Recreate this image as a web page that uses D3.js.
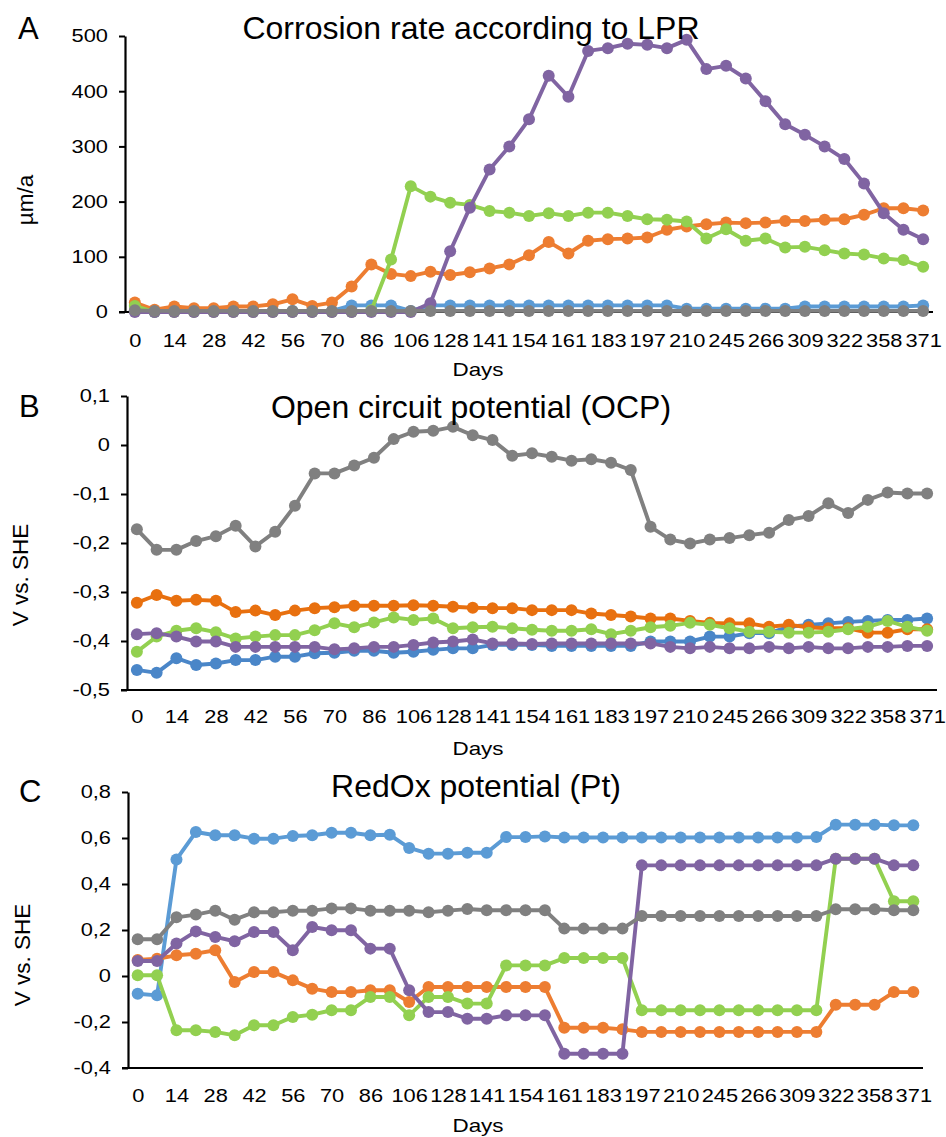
<!DOCTYPE html>
<html>
<head>
<meta charset="utf-8">
<script src="https://cdn.jsdelivr.net/npm/d3@7"></script>
<style>
  html, body { margin: 0; padding: 0; background: #fff; }
  svg { display: block; font-family: "Liberation Sans", Arial, Helvetica, sans-serif; }
</style>
</head>
<body>
<svg id="chart" width="946" height="1137"></svg>
<script>
// ---------- data ----------
// 41 sampling occasions; only every other one carries a day label
const sampleIndex = [0,1,2,3,4,5,6,7,8,9,10,11,12,13,14,15,16,17,18,19,20,21,22,23,24,25,26,27,28,29,30,31,32,33,34,35,36,37,38,39,40];
const dayTickLabels = ["0","14","28","42","56","70","86","106","128","141","154","161","183","197","210","245","266","309","322","358","371"];

const seriesNames = ["blue", "orange", "green", "purple", "gray"];

// Panel A: corrosion rate (µm/a)
const lprBlue   = [2,0,2,2,2,2,2,2,2,2,2,12,12,12,2,12,12,12,12,12,12,12,12,12,12,12,12,12,6,6,6,6,6,6,10,10,10,10,10,10,12];
const lprOrange = [17,4,10,7,7,10,10,14,23,11,17,46,86,69,65,73,67,72,79,86,103,127,106,129,132,133,135,149,155,159,162,161,162,165,165,167,168,176,188,188,184];
const lprGreen  = [11,0,0,0,0,0,0,0,0,0,0,0,3,95,228,209,198,194,183,180,174,179,174,180,180,174,168,167,164,133,150,129,133,117,118,112,106,104,97,94,82];
const lprPurple = [0,0,0,0,0,0,0,0,0,0,0,0,0,0,0,16,110,189,258,300,349,428,390,473,478,486,484,478,493,440,446,423,382,340,321,300,277,233,179,149,132];
const lprGray   = [3,2,2,2,2,2,2,2,2,2,2,2,2,2,2,2,2,2,2,2,2,2,2,2,2,2,2,2,2,2,2,2,2,2,2,2,2,2,2,2,2];

// Panel B: open circuit potential (V vs. SHE)
const ocpBlue   = [-0.459,-0.465,-0.435,-0.449,-0.446,-0.439,-0.439,-0.432,-0.432,-0.425,-0.424,-0.420,-0.420,-0.424,-0.422,-0.418,-0.415,-0.415,-0.408,-0.408,-0.408,-0.410,-0.410,-0.410,-0.410,-0.410,-0.401,-0.401,-0.401,-0.391,-0.391,-0.384,-0.384,-0.371,-0.367,-0.364,-0.361,-0.359,-0.357,-0.357,-0.354];
const ocpOrange = [-0.322,-0.306,-0.318,-0.316,-0.318,-0.341,-0.338,-0.347,-0.338,-0.333,-0.331,-0.328,-0.328,-0.328,-0.327,-0.328,-0.330,-0.332,-0.333,-0.333,-0.337,-0.337,-0.337,-0.344,-0.347,-0.350,-0.354,-0.354,-0.359,-0.363,-0.364,-0.364,-0.371,-0.367,-0.372,-0.374,-0.374,-0.383,-0.383,-0.376,-0.376];
const ocpGreen  = [-0.422,-0.391,-0.379,-0.374,-0.382,-0.395,-0.391,-0.388,-0.388,-0.378,-0.364,-0.372,-0.362,-0.352,-0.357,-0.354,-0.374,-0.372,-0.371,-0.374,-0.377,-0.379,-0.379,-0.376,-0.386,-0.379,-0.372,-0.369,-0.363,-0.367,-0.374,-0.381,-0.381,-0.383,-0.383,-0.381,-0.376,-0.371,-0.359,-0.371,-0.379];
const ocpPurple = [-0.386,-0.384,-0.391,-0.401,-0.401,-0.412,-0.412,-0.412,-0.412,-0.412,-0.417,-0.415,-0.412,-0.412,-0.408,-0.403,-0.401,-0.397,-0.405,-0.405,-0.406,-0.405,-0.405,-0.405,-0.405,-0.405,-0.405,-0.412,-0.415,-0.412,-0.415,-0.415,-0.412,-0.415,-0.412,-0.415,-0.415,-0.412,-0.412,-0.410,-0.410];
const ocpGray   = [-0.172,-0.214,-0.214,-0.196,-0.186,-0.165,-0.207,-0.177,-0.124,-0.058,-0.058,-0.042,-0.026,0.012,0.027,0.029,0.037,0.020,0.010,-0.022,-0.017,-0.024,-0.032,-0.029,-0.036,-0.051,-0.167,-0.193,-0.201,-0.193,-0.190,-0.184,-0.179,-0.153,-0.145,-0.119,-0.139,-0.112,-0.097,-0.099,-0.099];

// Panel C: redox potential (Pt), V vs. SHE
const redoxBlue   = [-0.077,-0.084,0.507,0.626,0.612,0.612,0.597,0.597,0.609,0.612,0.623,0.623,0.612,0.614,0.557,0.532,0.532,0.536,0.536,0.604,0.604,0.607,0.602,0.602,0.602,0.602,0.602,0.602,0.602,0.602,0.602,0.602,0.602,0.602,0.602,0.604,0.658,0.658,0.658,0.655,0.655];
const redoxOrange = [0.070,0.075,0.090,0.097,0.112,-0.026,0.017,0.017,-0.019,-0.055,-0.070,-0.070,-0.062,-0.062,-0.113,-0.048,-0.048,-0.048,-0.048,-0.048,-0.048,-0.048,-0.225,-0.225,-0.225,-0.232,-0.243,-0.243,-0.243,-0.243,-0.243,-0.243,-0.243,-0.243,-0.243,-0.243,-0.125,-0.125,-0.125,-0.070,-0.070];
const redoxGreen  = [0.003,0.003,-0.236,-0.236,-0.243,-0.258,-0.214,-0.214,-0.178,-0.168,-0.149,-0.149,-0.091,-0.091,-0.171,-0.091,-0.091,-0.120,-0.120,0.046,0.046,0.046,0.078,0.078,0.078,0.078,-0.149,-0.149,-0.149,-0.149,-0.149,-0.149,-0.149,-0.149,-0.149,-0.149,0.510,0.510,0.510,0.325,0.325];
const redoxPurple = [0.065,0.065,0.141,0.194,0.170,0.151,0.191,0.191,0.112,0.213,0.199,0.199,0.119,0.119,-0.062,-0.157,-0.157,-0.186,-0.186,-0.171,-0.171,-0.171,-0.338,-0.338,-0.338,-0.338,0.481,0.481,0.481,0.481,0.481,0.481,0.481,0.481,0.481,0.481,0.510,0.510,0.510,0.481,0.481];
const redoxGray   = [0.160,0.160,0.255,0.267,0.284,0.245,0.277,0.277,0.284,0.284,0.294,0.294,0.284,0.284,0.284,0.277,0.284,0.291,0.286,0.286,0.286,0.286,0.206,0.206,0.206,0.206,0.261,0.261,0.261,0.261,0.261,0.261,0.261,0.261,0.261,0.261,0.290,0.290,0.290,0.286,0.286];

// y tick values and labels
const lprTicks = [0,100,200,300,400,500];
const lprTickLabels = ["0","100","200","300","400","500"];
const ocpTicks = [0.1,0,-0.1,-0.2,-0.3,-0.4,-0.5];
const ocpTickLabels = ["0,1","0","-0,1","-0,2","-0,3","-0,4","-0,5"];
const redoxTicks = [0.8,0.6,0.4,0.2,0,-0.2,-0.4];
const redoxTickLabels = ["0,8","0,6","0,4","0,2","0","-0,2","-0,4"];

// ---------- styles ----------
const colorsAC = {blue:"#5B9BD5", orange:"#ED7D31", green:"#92D050", purple:"#8064A2", gray:"#808080"};
const colorsB  = {blue:"#4A86C8", orange:"#E8700F", green:"#92D050", purple:"#8064A2", gray:"#808080"};
const STRETCH = 1.18;

const svg = d3.select("#chart");

function stretchText(sel) {
  sel.each(function() {
    const len = this.getComputedTextLength();
    d3.select(this).attr("textLength", len * STRETCH).attr("lengthAdjust", "spacingAndGlyphs");
  });
}

function drawPanel(cfg) {
  const g = svg.append("g");
  const x = d3.scalePoint().domain(sampleIndex).range([cfg.x0, cfg.x1]).padding(0.5);
  const y = d3.scaleLinear().domain(cfg.yDomain).range([cfg.yBottom, cfg.yTop]);

  // y axis
  const yAxis = d3.axisLeft(y).tickValues(cfg.yTicks)
    .tickFormat((d, i) => cfg.yTickLabels[i]).tickSize(6).tickSizeOuter(0).tickPadding(11);
  const ya = g.append("g").attr("transform", `translate(${cfg.x0},0)`).call(yAxis);
  ya.select(".domain").attr("stroke", "#000").attr("stroke-width", 2.2);
  ya.selectAll(".tick line").attr("stroke", "#000").attr("stroke-width", 2);
  ya.selectAll("text").attr("font-size", 18.5).attr("fill", "#000")
    .attr("font-family", "Liberation Sans, Arial, sans-serif").call(stretchText);

  // x axis
  const evenIdx = sampleIndex.filter((d, i) => i % 2 === 0);
  const xAxis = d3.axisBottom(x).tickValues(evenIdx)
    .tickFormat(d => dayTickLabels[d / 2]).tickSize(0).tickSizeOuter(0).tickPadding(cfg.xPad);
  const xa = g.append("g").attr("transform", `translate(0,${y(cfg.yDomain[0])})`).call(xAxis);
  xa.select(".domain").attr("stroke", "#000").attr("stroke-width", 2.2)
    .attr("d", `M${cfg.x0 - 6},0H${cfg.x1}`);
  xa.selectAll("text").attr("font-size", 18.5).attr("fill", "#000")
    .attr("font-family", "Liberation Sans, Arial, sans-serif").call(stretchText);

  // series
  const line = d3.line().x((d, i) => x(sampleIndex[i])).y(d => y(d));
  cfg.series.forEach((vals, k) => {
    const col = cfg.colors[seriesNames[k]];
    g.append("path").datum(vals).attr("d", line)
      .attr("fill", "none").attr("stroke", col).attr("stroke-width", 3.9)
      .attr("stroke-linejoin", "round");
    g.append("g").selectAll("circle").data(vals).join("circle")
      .attr("cx", (d, i) => x(sampleIndex[i])).attr("cy", d => y(d))
      .attr("r", 6).attr("fill", col);
  });

  // titles and labels
  g.append("text").attr("x", cfg.titleX).attr("y", cfg.titleY).attr("text-anchor", "middle")
    .attr("font-size", 32).attr("fill", "#000").text(cfg.title);
  g.append("text").attr("x", cfg.letterX).attr("y", cfg.letterY)
    .attr("font-size", 31).attr("fill", "#000").text(cfg.letter);
  g.append("text").attr("x", 478).attr("y", cfg.daysY).attr("text-anchor", "middle")
    .attr("font-size", 19).attr("fill", "#000").text("Days").call(stretchText);
  g.append("text").attr("transform", `translate(${cfg.yLabX},${cfg.yLabY}) rotate(-90)`)
    .attr("text-anchor", "middle").attr("dy", "0.35em")
    .attr("font-size", 22.5).attr("fill", "#000").text(cfg.yLabel);
}

drawPanel({
  x0: 125, x1: 933, yTop: 36, yBottom: 312, yDomain: [0, 500],
  yTicks: lprTicks, yTickLabels: lprTickLabels, xPad: 22,
  series: [lprBlue, lprOrange, lprGreen, lprPurple, lprGray], colors: colorsAC,
  title: "Corrosion rate according to LPR", titleX: 471, titleY: 39,
  letter: "A", letterX: 18, letterY: 39, daysY: 376,
  yLabel: "µm/a", yLabX: 25, yLabY: 200
});

drawPanel({
  x0: 127, x1: 937, yTop: 396, yBottom: 690, yDomain: [-0.5, 0.1],
  yTicks: ocpTicks, yTickLabels: ocpTickLabels, xPad: 20,
  series: [ocpBlue, ocpOrange, ocpGreen, ocpPurple, ocpGray], colors: colorsB,
  title: "Open circuit potential (OCP)", titleX: 471, titleY: 418,
  letter: "B", letterX: 19, letterY: 417, daysY: 755,
  yLabel: "V vs. SHE", yLabX: 20, yLabY: 575
});

drawPanel({
  x0: 128, x1: 923, yTop: 792, yBottom: 1068, yDomain: [-0.4, 0.8],
  yTicks: redoxTicks, yTickLabels: redoxTickLabels, xPad: 21,
  series: [redoxBlue, redoxOrange, redoxGreen, redoxPurple, redoxGray], colors: colorsAC,
  title: "RedOx potential (Pt)", titleX: 476, titleY: 797,
  letter: "C", letterX: 19, letterY: 802, daysY: 1132,
  yLabel: "V vs. SHE", yLabX: 22, yLabY: 955
});
</script>
</body>
</html>
